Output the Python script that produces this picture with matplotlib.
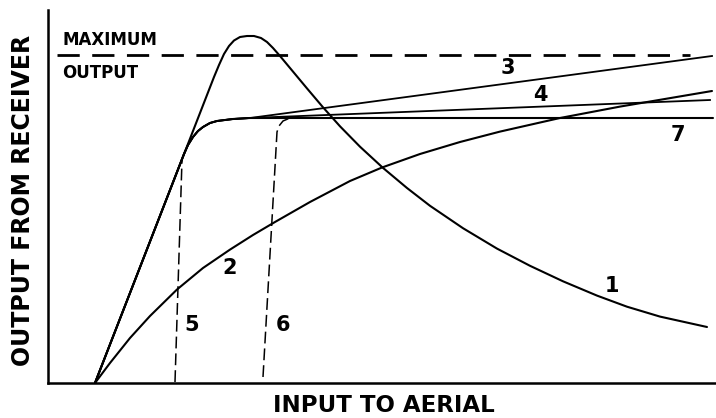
import matplotlib
matplotlib.use("Agg")
import matplotlib.pyplot as plt

plt.rcParams['font.family'] = ['DejaVu Sans']
plt.rcParams['lines.scale_dashes'] = False

# curve readings, input (x) vs output (y), arbitrary units
c1_x = [47, 166, 171, 176, 181, 186, 192, 199, 206, 213, 219, 225, 232, 245, 259, 275, 292,
        312, 335, 359, 382, 415, 449, 482, 515, 549, 579, 612, 659]
c1_y = [0, 306, 318, 329, 337, 342.5, 346, 347, 347, 345, 341, 335, 327, 311.4, 294.6, 275.7,
        256.7, 236.3, 215.1, 195, 177.2, 154.8, 134.4, 117.2, 101.7, 87.4, 76.3, 66.4, 56]

c2_x = [47, 62, 82, 102, 129, 155, 182, 205, 227, 262, 302, 334, 372, 412, 452, 512, 572, 605, 664]
c2_y = [0, 20, 45, 67, 93.5, 115, 133.4, 148, 161, 181, 202, 215.5, 229, 241, 251.4, 265,
        276.4, 282, 292]

# common rise and knee of curves 3, 4, 7
knee_x = [47, 136, 140, 145, 150, 155, 162, 169, 185, 202]
knee_y = [0, 229, 238, 246, 252, 256, 260, 262, 264, 265]
end3 = (664, 327)
end4 = (662, 283)
end7 = (665, 265)

c5_x = [127, 134]
c5_y = [1, 223]

c6_x = [215, 229, 231, 235, 242]
c6_y = [6, 251, 257, 262, 265]

max_x = [9, 642]
max_y = [328, 328]

labels = ["1", "2", "3", "4", "5", "6", "7"]
label_x = [564, 182, 460, 492, 144, 235, 630]
label_y = [97, 115, 315, 288, 58, 58, 248]

fig = plt.figure(figsize=(7.16, 4.18), dpi=100)
ax = fig.add_axes([48 / 716, 35 / 418, 668 / 716, 373 / 418])
ax.set_xlim(0, 668)
ax.set_ylim(0, 373)

k = dict(color='black', lw=1.5, solid_capstyle='round', solid_joinstyle='round')
ax.plot(c1_x, c1_y, **k)
ax.plot(c2_x, c2_y, **k)
ax.plot(knee_x + [end3[0]], knee_y + [end3[1]], color='black', lw=1.3, solid_joinstyle='round')
ax.plot(knee_x + [end4[0]], knee_y + [end4[1]], color='black', lw=1.3, solid_joinstyle='round')
ax.plot(knee_x + [end7[0]], knee_y + [end7[1]], **k)
ax.plot(c5_x, c5_y, color='black', lw=1.1, linestyle=(0, (8.5, 3.6)))
ax.plot(c6_x, c6_y, color='black', lw=1.1, linestyle=(0, (8.5, 3.6)))
ax.plot(max_x, max_y, color='black', lw=2.0, linestyle=(0, (16, 9)))

for s, x, y in zip(labels, label_x, label_y):
    ax.text(x, y, s, fontsize=15, fontweight='bold', ha='center', va='center')

ax.text(14, 343, "MAXIMUM", fontsize=12, fontweight='bold', ha='left', va='center')
ax.text(14, 310, "OUTPUT", fontsize=12, fontweight='bold', ha='left', va='center')

for side in ['top', 'right']:
    ax.spines[side].set_visible(False)
for side in ['left', 'bottom']:
    ax.spines[side].set_linewidth(1.8)
ax.set_xticks([])
ax.set_yticks([])

fig.text(384 / 716, 6 / 418, "INPUT TO AERIAL", fontsize=16.5, fontweight='bold',
         ha='center', va='baseline')
fig.text(23 / 716, 1 - 200 / 418, "OUTPUT FROM RECEIVER", fontsize=17, fontweight='bold',
         ha='center', va='center', rotation=90)

fig.savefig("out.png", dpi=100)
